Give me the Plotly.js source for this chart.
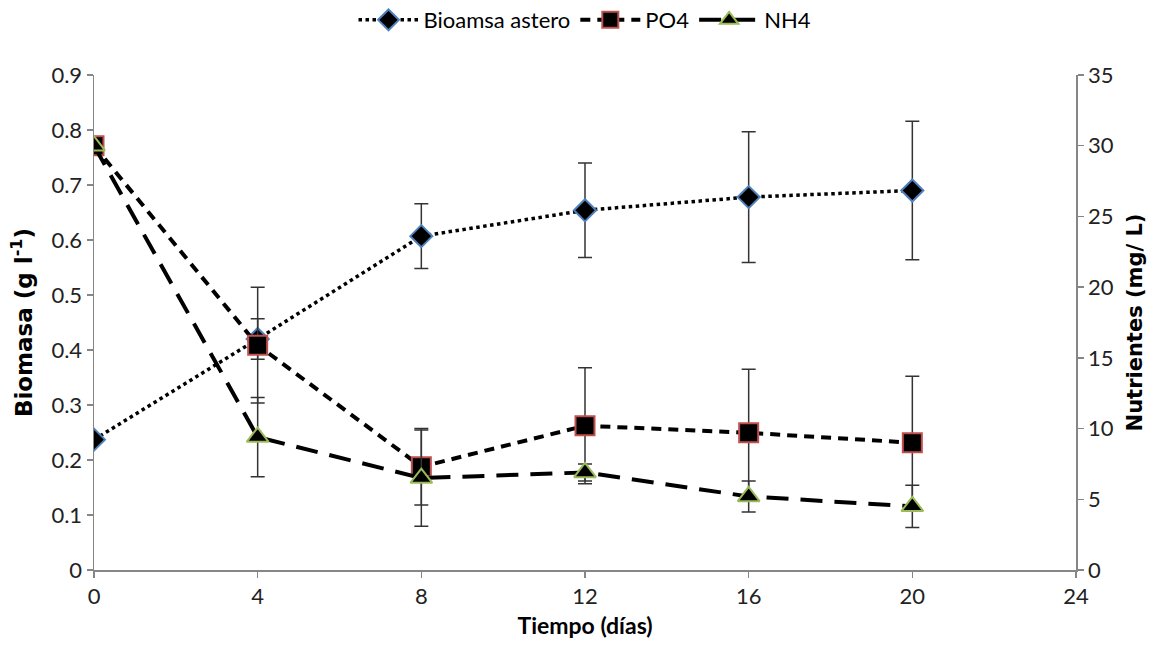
<!DOCTYPE html>
<html>
<head>
<meta charset="utf-8">
<script src="https://cdn.plot.ly/plotly-3.0.1.min.js"></script>
<style>html,body{margin:0;padding:0;background:#fff;}#chart{width:1162px;height:655px;}</style>
</head>
<body>
<div id="chart"></div>
<script>
const days = [0, 4, 8, 12, 16, 20];
const biomasa = [0.237, 0.42, 0.607, 0.654, 0.678, 0.690];
const biomasaErr = [0, 0.037, 0.059, 0.086, 0.119, 0.126];
const po4 = [30.0, 15.9, 7.3, 10.2, 9.7, 9.0];
const po4Err = [0, 4.1, 2.7, 4.1, 4.5, 4.7];
const nh4 = [30.0, 9.4, 6.5, 6.9, 5.2, 4.5];
const nh4Err = [0, 2.8, 3.4, 0.6, 1.1, 1.5];
const xTicks = [0, 4, 8, 12, 16, 20, 24];
const yTicks = [0, 0.1, 0.2, 0.3, 0.4, 0.5, 0.6, 0.7, 0.8, 0.9];
const y2Ticks = [0, 5, 10, 15, 20, 25, 30, 35];

const font = "Lato, 'Open Sans', sans-serif";
const titleFont = "'DejaVu Sans', sans-serif";
const errStyle = {type: 'data', visible: true, color: '#333333', thickness: 1.5, width: 7};

const traces = [
  {
    x: days, y: biomasa, name: 'Bioamsa astero', type: 'scatter', mode: 'lines+markers',
    yaxis: 'y',
    line: {color: '#000', width: 3.5, dash: 'dot'},
    marker: {symbol: 'diamond', size: 17, color: '#000', line: {color: '#4F81BD', width: 2}},
    error_y: Object.assign({array: biomasaErr}, errStyle)
  },
  {
    x: days, y: po4, name: 'PO4', type: 'scatter', mode: 'lines+markers',
    yaxis: 'y2',
    line: {color: '#000', width: 4, dash: '10px,7px'},
    marker: {symbol: 'square', size: 19, color: '#000', line: {color: '#C0504D', width: 2}},
    error_y: Object.assign({array: po4Err}, errStyle)
  },
  {
    x: days, y: nh4, name: 'NH4', type: 'scatter', mode: 'lines+markers',
    yaxis: 'y2',
    line: {color: '#000', width: 4, dash: '22px,12px'},
    marker: {symbol: 'triangle-up', size: 19, color: '#000', line: {color: '#9BBB59', width: 2}},
    error_y: Object.assign({array: nh4Err}, errStyle)
  }
];

const axisCommon = {
  showgrid: false, zeroline: false, showline: true, linecolor: '#868686', linewidth: 1.5,
  ticks: 'outside', ticklen: 6, tickcolor: '#868686', tickwidth: 1.5,
  tickfont: {family: font, size: 22, color: '#222'}
};

const layout = {
  width: 1162, height: 655,
  margin: {l: 94, r: 86, t: 75, b: 85, autoexpand: false},
  paper_bgcolor: '#fff', plot_bgcolor: '#fff',
  font: {family: font, color: '#000'},
  showlegend: true,
  legend: {orientation: 'h', x: 0.5, xanchor: 'center', y: 1.111, yanchor: 'middle',
           font: {family: font, size: 22, color: '#000'}, itemwidth: 60},
  xaxis: Object.assign({}, axisCommon, {
    range: [0, 24], tickvals: xTicks, ticktext: xTicks.map(String),
    title: {text: 'Tiempo (días)', font: {family: font, size: 23, color: '#000', weight: 'bold'}, standoff: 10}
  }),
  yaxis: Object.assign({}, axisCommon, {
    range: [0, 0.9], tickvals: yTicks, ticktext: yTicks.map(String),
    title: {text: 'Biomasa (g l<sup>-1</sup>)', font: {family: titleFont, size: 23, color: '#000', weight: 'bold'}, standoff: 12}
  }),
  yaxis2: Object.assign({}, axisCommon, {
    overlaying: 'y', side: 'right', range: [0, 35], tickvals: y2Ticks, ticktext: y2Ticks.map(String),
    title: {text: 'Nutrientes (mg/ L)', font: {family: titleFont, size: 21, color: '#000', weight: 'bold'}, standoff: 14}
  })
};

Plotly.newPlot('chart', traces, layout, {displayModeBar: false, staticPlot: true});
</script>
</body>
</html>
